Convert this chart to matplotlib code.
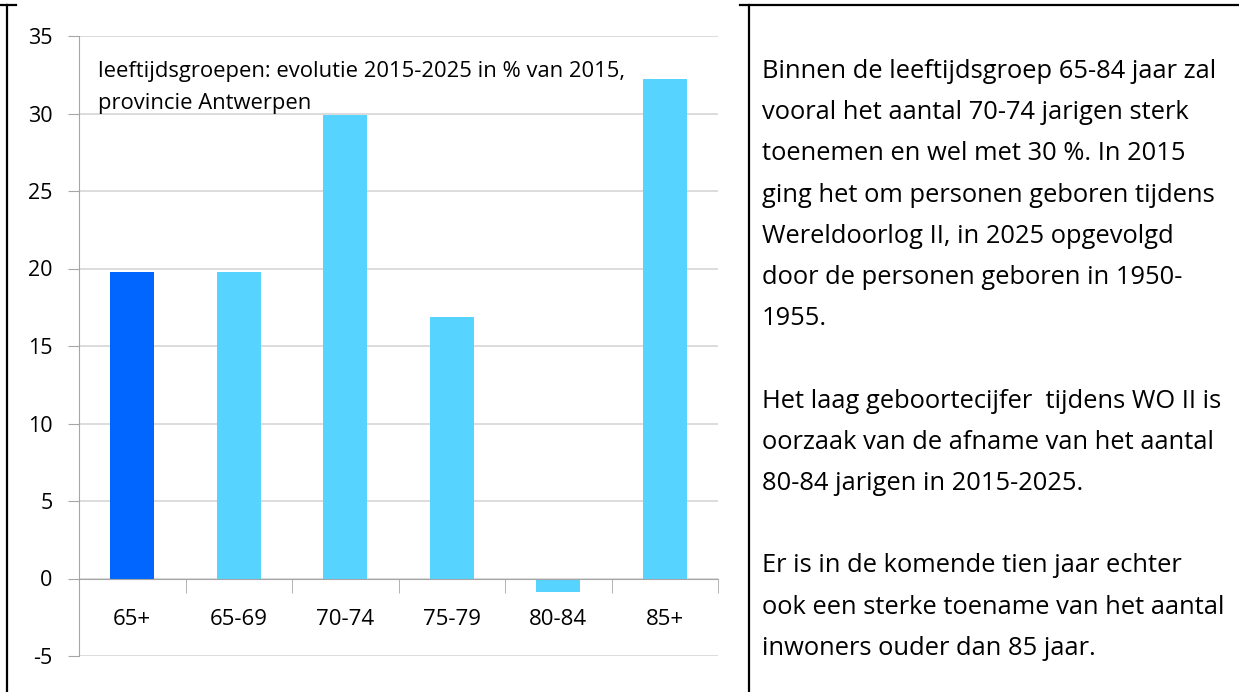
import matplotlib
matplotlib.use('Agg')
import matplotlib.pyplot as plt
from matplotlib.lines import Line2D
import numpy as np

# data
groepen = ['65+', '65-69', '70-74', '75-79', '80-84', '85+']
evolutie = [19.8, 19.8, 29.9, 16.9, -0.9, 32.2]

titel = ['leeftijdsgroepen: evolutie 2015-2025 in % van 2015,',
         'provincie Antwerpen']

tekst = ['Binnen de leeftijdsgroep 65-84 jaar zal',
         'vooral het aantal 70-74 jarigen sterk',
         'toenemen en wel met 30 %. In 2015',
         'ging het om personen geboren tijdens',
         'Wereldoorlog II, in 2025 opgevolgd',
         'door de personen geboren in 1950-',
         '1955.',
         '',
         'Het laag geboortecijfer  tijdens WO II is',
         'oorzaak van de afname van het aantal',
         '80-84 jarigen in 2015-2025.',
         '',
         'Er is in de komende tien jaar echter',
         'ook een sterke toename van het aantal',
         'inwoners ouder dan 85 jaar.']

plt.rcParams['font.family'] = ['Open Sans', 'DejaVu Sans']
plt.rcParams['axes.unicode_minus'] = False

W, H = 1239, 692
fig = plt.figure(figsize=(W / 100, H / 100), dpi=100)

def px(x, y):
    return x / W, 1 - y / H

# chart area
l, t = 79, 36
r, b = 718, 656
ax = fig.add_axes([l / W, 1 - b / H, (r - l) / W, (b - t) / H])

kleuren = ['#0066FF'] + ['#57D3FF'] * (len(groepen) - 1)
xs = np.arange(len(groepen))
ax.bar(xs, evolutie, width=0.41, color=kleuren, zorder=3)

ax.set_xlim(-0.5, len(groepen) - 0.5)
ax.set_ylim(-5, 35)
ax.set_yticks(range(-5, 40, 5))
ax.yaxis.grid(True, color='#D9D9D9', lw=1.3, zorder=0)
ax.set_axisbelow(True)

for s in ['top', 'right']:
    ax.spines[s].set_visible(False)
ax.spines['left'].set_color('#A6A6A6')
ax.spines['bottom'].set_color('#A6A6A6')
ax.spines['bottom'].set_position(('data', 0))
ax.spines['bottom'].set_zorder(4)

ax.set_xticks(xs)
ax.set_xticklabels(groepen)
ax.set_xticks(np.arange(-0.5, len(groepen), 1), minor=True)
ax.tick_params(axis='x', which='major', length=0, pad=22, labelsize=16)
ax.tick_params(axis='x', which='minor', length=10, color='#A6A6A6', direction='out')
ax.tick_params(axis='y', length=8, color='#A6A6A6', pad=11, labelsize=15.5)

# chart title inside the plot
fig.text(*px(98, 72), titel[0], fontsize=15.8, va='center', ha='left')
fig.text(*px(98, 103), titel[1], fontsize=15.8, va='center', ha='left')

# text cell on the right
y0, dy = 78, 41.2
for i, regel in enumerate(tekst):
    if regel:
        fig.text(*px(762, y0 + i * dy), regel, fontsize=18.4, va='baseline', ha='left')

# table borders
lw = 1.6
for (x1, y1), (x2, y2) in [((0, 5), (16, 5)), ((740, 5), (W, 5)),
                           ((7, 5), (7, H)), ((749, 5), (749, H))]:
    fig.add_artist(Line2D([x1 / W, x2 / W], [1 - y1 / H, 1 - y2 / H],
                          transform=fig.transFigure, color='black', lw=lw))

fig.savefig('out.png', dpi=100)
